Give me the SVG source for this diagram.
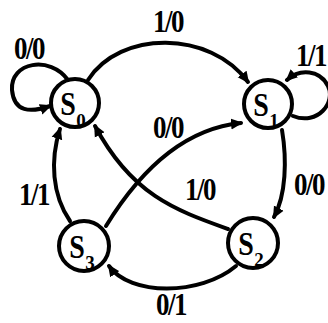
<svg xmlns="http://www.w3.org/2000/svg" width="328" height="323" viewBox="0 0 328 323">
<style>
.node{fill:#fff;stroke:#000;stroke-width:4}
.edge{fill:none;stroke:#000;stroke-width:4;stroke-linecap:round}
.st{font-family:"Liberation Serif",serif;font-weight:bold;font-size:28px;fill:#000;text-anchor:middle}
.sub{font-family:"Liberation Serif",serif;font-weight:bold;font-size:19px;fill:#000;text-anchor:middle}
.lbl{font-family:"Liberation Serif",serif;font-weight:bold;font-size:27px;fill:#000;text-anchor:middle;letter-spacing:-1.5px}
</style>
<defs>
<marker id="ah" markerUnits="userSpaceOnUse" markerWidth="12" markerHeight="12" viewBox="0 0 12 12" refX="10" refY="6" orient="auto">
<path d="M0,0.5 L12,6 L0,11.5 z" fill="#000"/>
</marker>
</defs>
<rect width="328" height="323" fill="#fff"/>
<g id="connectors">
<path class="edge" d="M68,80 C50,55 10,62 12,90 C14,112 30,113 50,106" marker-end="url(#ah)"/>
<path class="edge" d="M293,116 C318,126 336,102 328,86 C320,70 300,68 287,80" marker-end="url(#ah)"/>
<path class="edge" d="M88,80 C120,30 210,30 248,82" marker-end="url(#ah)"/>
<path class="edge" d="M106,226 C125,195 170,130 241,123" marker-end="url(#ah)"/>
<path class="edge" d="M228,229 C175,210 132,195 95,126" marker-end="url(#ah)"/>
<path class="edge" d="M282,130 C287,160 286,195 274,217" marker-end="url(#ah)"/>
<path class="edge" d="M236,266 C200,296 130,296 109,266" marker-end="url(#ah)"/>
<path class="edge" d="M70,221 C52,195 50,160 60,129" marker-end="url(#ah)"/>
<text class="lbl" transform="translate(29,59) scale(1,1.2)">0/0</text>
<text class="lbl" transform="translate(168,32) scale(1,1.2)">1/0</text>
<text class="lbl" transform="translate(311,66) scale(1,1.2)">1/1</text>
<text class="lbl" transform="translate(168,138) scale(1,1.2)">0/0</text>
<text class="lbl" transform="translate(200,200) scale(1,1.2)">1/0</text>
<text class="lbl" transform="translate(309,195) scale(1,1.2)">0/0</text>
<text class="lbl" transform="translate(34,205) scale(1,1.2)">1/1</text>
<text class="lbl" transform="translate(171,315) scale(1,1.2)">0/1</text>
</g>
<g id="S0"><circle class="node" cx="75" cy="103" r="24"/><text class="st" transform="translate(68,115) scale(1,1.2)">S</text><text class="sub" x="81" y="127">0</text></g>
<g id="S1"><circle class="node" cx="268" cy="104" r="24"/><text class="st" transform="translate(261,116) scale(1,1.2)">S</text><text class="sub" x="274" y="127">1</text></g>
<g id="S2"><circle class="node" cx="253" cy="243" r="25"/><text class="st" transform="translate(246,255) scale(1,1.2)">S</text><text class="sub" x="259" y="266">2</text></g>
<g id="S3"><circle class="node" cx="84" cy="246" r="25"/><text class="st" transform="translate(77,258) scale(1,1.2)">S</text><text class="sub" x="90" y="269">3</text></g>
</svg>
